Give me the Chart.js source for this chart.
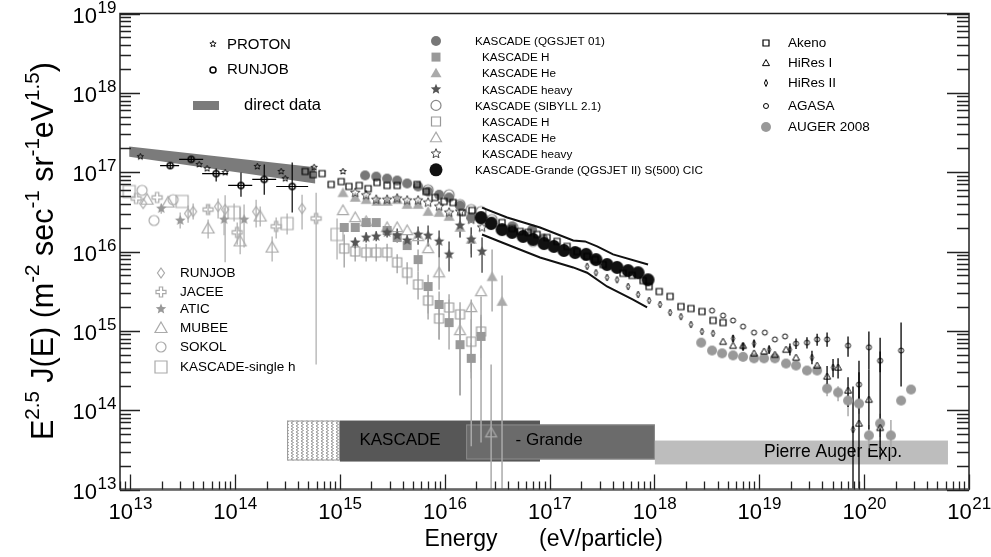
<!DOCTYPE html>
<html>
<head>
<meta charset="utf-8">
<script src="https://cdn.jsdelivr.net/npm/chart.js@4.4.1/dist/chart.umd.min.js"></script>
<style>
  html, body { margin: 0; padding: 0; background: #fff; }
  canvas { display: block; }
</style>
</head>
<body>
<canvas id="spectrum" width="991" height="557"></canvas>
<script>
// ---------------------------------------------------------------------------
// Data (energy in eV, flux as E^2.5 J(E))
// ---------------------------------------------------------------------------

var xTickExps = [13, 14, 15, 16, 17, 18, 19, 20, 21];
var yTickExps = [13, 14, 15, 16, 17, 18, 19];

var protonE = [1.25e13, 4.55e13, 5.42e13, 8.05e13, 1.63e14, 2.75e14, 3.01e14, 5.68e14, 1.07e15];
var protonF = [1.57e17, 1.25e17, 1.11e17, 9.9e16, 1.18e17, 1.02e17, 8.3e16, 1.15e17, 1.02e17];

var runjobE   = [2.41e13, 3.82e13, 6.61e13, 1.14e14, 1.90e14, 3.51e14];
var runjobF   = [1.21e17, 1.45e17, 9.6e16, 6.8e16, 8.1e16, 6.6e16];
var runjobELo = [1.93e13, 2.93e13, 4.86e13, 8.60e13, 1.46e14, 2.47e14];
var runjobEHi = [2.93e13, 4.97e13, 8.60e13, 1.46e14, 2.47e14, 4.98e14];
var runjobFLo = [1.10e17, 1.35e17, 7.6e16, 4.9e16, 5.2e16, 3.1e16];
var runjobFHi = [1.32e17, 1.55e17, 1.11e17, 9.9e16, 1.25e17, 1.32e17];

var bandE     = [9.8e12, 5.81e14];
var bandUpper = [2.10e17, 1.15e17];
var bandLower = [1.57e17, 7.2e16];

var runjobGE  = [1.33e13, 3.57e13, 3.99e13, 6.90e13, 8.05e13, 1.59e14, 4.36e14];
var runjobGF  = [4.03e16, 3.01e16, 3.19e16, 3.69e16, 3.38e16, 3.19e16, 3.48e16];
var runjobGLo = [null, 2.3e16, 2.53e16, 2.61e16, 7.3e15, 2.01e16, 1.89e16];
var runjobGHi = [null, 3.8e16, 4.03e16, 4.66e16, 5.1e16, 4.5e16, 5.2e16];

var jaceeE  = [1.14e13, 1.81e13, 5.54e13, 1.05e14, 2.47e14, 5.94e14];
var jaceeF  = [4.66e16, 4.8e16, 3.38e16, 1.74e16, 2.07e16, 2.61e16];
var jaceeLo = [null, null, 2.92e16, 1.22e16, 1.46e16, 3.76e14];
var jaceeHi = [null, null, 3.91e16, 2.32e16, 2.68e16, 5.5e16];

var aticE  = [1.98e13, 3.00e13, 7.87e13, 1.22e14];
var aticF  = [3.48e16, 2.46e16, 2.53e16, 2.53e16];
var aticLo = [3.0e16, 1.95e16, 1.6e16, 1.12e16];
var aticHi = [4.0e16, 3.1e16, 3.5e16, 3.91e16];

var mubeeE  = [1.45e13, 2.30e13, 5.54e13, 1.12e14, 1.74e14, 2.26e14];
var mubeeF  = [4.5e16, 4.14e16, 1.95e16, 1.34e16, 2.76e16, 1.12e16];
var mubeeLo = [null, null, 1.46e16, 9.2e15, 2.07e16, 7.5e15];
var mubeeHi = [null, null, 2.53e16, 3.58e16, 3.69e16, 1.55e16];

var sokolE = [1.30e13, 1.69e13, 2.57e13];
var sokolF = [5.9e16, 2.46e16, 4.5e16];

var singleE  = [9.8e12, 3.13e13, 9.8e13, 3.14e14, 9.4e14];
var singleF  = [5.7e16, 4.27e16, 3.10e16, 2.25e16, 1.64e16];
var singleLo = [null, null, 2.39e16, 1.64e16, 7.9e15];
var singleHi = [null, null, 4.03e16, 3.01e16, 2.61e16];

// KASCADE, QGSJET 01 unfolding
var qAllE = [1.74e15, 2.22e15, 2.82e15, 3.52e15, 4.38e15, 5.57e15, 6.94e15, 8.84e15, 1.10e16, 1.40e16, 1.79e16, 2.22e16, 2.83e16, 4.39e16, 6.81e16, 8.67e16];
var qAllF = [9.1e16, 8.8e16, 8.3e16, 7.85e16, 7.2e16, 6.6e16, 5.7e16, 5.2e16, 4.8e16, 3.80e16, 2.68e16, 2.53e16, 2.39e16, 2.07e16, 1.89e16, 1.46e16];

var qHE  = [1.10e15, 1.40e15, 1.78e15, 2.22e15, 2.82e15, 3.52e15, 4.38e15, 5.57e15, 6.94e15, 8.84e15, 1.10e16, 1.40e16, 1.79e16, 2.22e16];
var qHF  = [2.01e16, 2.01e16, 2.32e16, 2.32e16, 1.84e16, 1.50e16, 1.19e16, 7.9e15, 3.62e15, 2.15e15, 1.27e15, 6.7e14, 4.5e14, 8.5e14];
var qHLo = [null, null, null, null, null, null, null, 5.6e15, 1.39e15, 7.8e14, 5.8e14, 1.54e14, 2.5e14, 3.2e14];
var qHHi = [null, null, null, null, null, null, null, 1.06e16, 5.1e15, 3.13e15, 2.48e15, 1.39e15, 7.0e14, 1.5e15];

var qHeE  = [1.07e15, 1.40e15, 1.78e15, 2.26e15, 2.82e15, 3.52e15, 4.38e15, 5.57e15, 6.94e15, 8.84e15, 1.10e16, 1.40e16, 1.79e16, 2.83e16, 3.52e16];
var qHeF  = [5.5e16, 4.8e16, 4.5e16, 4.27e16, 4.27e16, 4.5e16, 3.91e16, 3.91e16, 3.19e16, 3.10e16, 2.76e16, 2.01e16, 1.42e16, 4.8e15, 2.34e15];
var qHeLo = [null, null, null, null, null, null, null, null, null, null, null, 1.5e16, 9.4e15, 1.75e15, 5e12];
var qHeHi = [null, null, null, null, null, null, null, null, null, null, null, 2.7e16, 2.01e16, 1.06e16, 5.0e15];

var qHvE  = [1.40e15, 1.78e15, 2.22e15, 2.82e15, 3.52e15, 4.38e15, 5.57e15, 6.94e15, 8.84e15, 1.10e16, 1.40e16, 1.79e16, 2.27e16];
var qHvF  = [1.30e16, 1.50e16, 1.55e16, 1.74e16, 1.59e16, 1.38e16, 1.64e16, 1.59e16, 1.34e16, 9.2e15, 2.13e16, 1.42e16, 1.00e16];
var qHvLo = [1.1e16, 1.3e16, 1.35e16, 1.5e16, 1.30e16, 1.15e16, 1.22e16, 1.16e16, 8.4e15, 5.6e15, 1.50e16, 8.4e15, 5.4e15];
var qHvHi = [1.5e16, 1.75e16, 1.8e16, 2.0e16, 1.95e16, 1.65e16, 2.07e16, 2.13e16, 1.84e16, 1.34e16, 2.92e16, 2.01e16, 1.50e16];

// KASCADE, SIBYLL 2.1 unfolding
var sAllE = [6.94e15, 1.10e16, 1.40e16, 1.79e16, 2.22e16, 2.83e16, 4.49e16, 6.96e16, 8.67e16];
var sAllF = [6.0e16, 5.2e16, 3.91e16, 3.38e16, 3.19e16, 2.53e16, 2.01e16, 1.34e16, 1.26e16];

var sHE  = [1.10e15, 1.40e15, 1.78e15, 2.22e15, 2.82e15, 3.52e15, 4.38e15, 5.57e15, 6.94e15, 8.84e15, 1.10e16, 1.40e16, 1.79e16, 2.22e16];
var sHF  = [1.09e16, 1.00e16, 9.7e15, 9.7e15, 9.7e15, 7.3e15, 5.4e15, 3.84e15, 2.41e15, 1.43e15, 1.97e15, 1.61e15, 7.3e14, 9.8e14];
var sHLo = [6.3e15, 7.5e15, 7.5e15, 7.5e15, 7.5e15, 5.3e15, 3.84e15, 2.48e15, 1.65e15, 7.8e14, 1.2e15, 1.54e14, 3.0e14, 4.5e14];
var sHHi = [1.64e16, 1.3e16, 1.25e16, 1.25e16, 1.25e16, 9.2e15, 7.3e15, 5.6e15, 3.13e15, 2.0e15, 2.9e15, 2.3e15, 1.4e15, 1.6e15];

var sHeE  = [1.07e15, 1.40e15, 1.78e15, 2.82e15, 3.52e15, 4.38e15, 5.57e15, 6.94e15, 8.84e15, 1.40e16, 1.79e16, 2.22e16, 2.77e16];
var sHeF  = [3.29e16, 2.68e16, 2.39e16, 2.01e16, 2.01e16, 1.84e16, 1.55e16, 1.09e16, 5.4e15, 1.01e15, 1.97e15, 3.13e15, 5.2e13];
var sHeLo = [null, null, null, null, null, null, null, null, 3.3e15, 1.54e14, 3.5e13, 3.9e13, 5e12];
var sHeHi = [null, null, null, null, null, null, null, null, 8.4e15, 1.8e15, 2.48e15, 2.71e15, 3.76e14];

var sHvE = [1.40e15, 1.78e15, 2.22e15, 2.82e15, 3.52e15, 4.38e15, 5.57e15, 6.94e15, 8.84e15, 1.10e16, 1.40e16, 1.79e16, 2.27e16];
var sHvF = [5.5e16, 5.1e16, 4.5e16, 4.5e16, 4.66e16, 4.4e16, 4.4e16, 4.14e16, 3.69e16, 3.10e16, 3.19e16, 2.53e16, 2.01e16];

var akenoE = [4.67e14, 5.56e14, 6.77e14, 8.26e14, 1.03e15, 1.22e15, 1.53e15, 1.86e15, 2.26e15, 2.82e15, 3.52e15, 5.45e15, 6.64e15, 8.09e15, 9.87e15, 1.20e16, 1.47e16, 1.82e16, 3.52e16, 4.39e16, 5.23e16, 6.24e16, 7.60e16, 9.46e16, 1.18e17, 1.47e17, 1.83e17, 2.28e17, 2.72e17, 3.24e17, 5.02e17, 6.12e17, 7.80e17, 8.89e17, 1.11e18, 1.41e18, 1.79e18, 2.23e18, 2.84e18, 3.62e18, 4.51e18];
var akenoF = [1.02e17, 9.3e16, 9.6e16, 7.0e16, 7.6e16, 6.6e16, 6.8e16, 6.2e16, 7.4e16, 6.8e16, 6.8e16, 7.0e16, 5.7e16, 4.8e16, 4.27e16, 4.14e16, 3.10e16, 3.29e16, 2.32e16, 1.95e16, 1.79e16, 1.74e16, 1.64e16, 1.50e16, 1.34e16, 1.16e16, 1.00e16, 8.65e15, 7.9e15, 6.85e15, 5.3e15, 5.0e15, 4.3e15, 3.62e15, 3.13e15, 2.71e15, 2.02e15, 1.91e15, 1.75e15, 1.35e15, 1.27e15];

var grandeE = [2.22e16, 2.77e16, 3.52e16, 4.39e16, 5.59e16, 6.96e16, 8.87e16, 1.10e17, 1.37e17, 1.75e17, 2.23e17, 2.77e17, 3.53e17, 4.40e17, 5.61e17, 6.98e17, 8.69e17];
var grandeF = [2.68e16, 2.25e16, 1.89e16, 1.74e16, 1.55e16, 1.42e16, 1.26e16, 1.16e16, 1.03e16, 9.7e15, 9.2e15, 7.9e15, 6.85e15, 6.3e15, 5.75e15, 5.4e15, 4.4e15];

var grandeUpE = [2.27e16, 3.94e16, 8.11e16, 1.68e17, 2.18e17, 2.84e17, 4.03e17, 8.69e17];
var grandeUpF = [3.58e16, 2.68e16, 2.01e16, 1.38e16, 1.34e16, 1.16e16, 9.2e15, 6.85e15];
var grandeLoE = [2.27e16, 3.52e16, 8.11e16, 1.68e17, 2.28e17, 3.53e17, 6.25e17, 8.51e17];
var grandeLoF = [1.64e16, 1.30e16, 8.4e15, 6.3e15, 5.4e15, 3.62e15, 2.48e15, 1.97e15];

var hires2E  = [2.28e17, 2.77e17, 3.53e17, 4.40e17, 5.61e17, 6.98e17, 8.89e17, 1.13e18, 1.41e18, 1.79e18, 2.23e18, 2.84e18, 3.62e18, 5.62e18, 7.00e18, 8.91e18, 1.24e19, 1.96e19, 3.18e19, 5.05e19, 7.83e19];
var hires2F  = [6.5e15, 5.4e15, 4.7e15, 4.4e15, 3.62e15, 2.87e15, 2.41e15, 2.15e15, 1.70e15, 1.51e15, 1.20e15, 9.8e14, 9.3e14, 8.0e14, 6.3e14, 6.9e14, 5.8e14, 5.8e14, 4.6e14, 3.45e14, 5.7e13];
var hires2Lo = [null, null, null, null, null, null, null, null, null, null, null, null, null, 7.2e14, 5.6e14, 6.1e14, 5.1e14, 4.9e14, 3.8e14, 2.6e14, 5e12];
var hires2Hi = [null, null, null, null, null, null, null, null, null, null, null, null, null, 8.9e14, 7.1e14, 7.8e14, 6.6e14, 6.9e14, 5.6e14, 4.4e14, 1.99e14];

var hires1E  = [4.51e18, 5.62e18, 7.00e18, 8.91e18, 1.11e19, 1.41e19, 1.80e19, 2.24e19, 3.56e19, 4.43e19, 5.64e19, 7.02e19, 8.93e19, 1.11e20, 1.42e20];
var hires1F  = [7.3e14, 6.5e14, 6.5e14, 5.2e14, 5.5e14, 5.0e14, 5.8e14, 4.6e14, 3.65e14, 2.66e14, 3.45e14, 1.77e14, 6.8e13, 1.36e14, 6.0e13];
var hires1Lo = [null, null, null, null, null, null, null, null, null, 1.9e14, 2.5e14, 1.1e14, 5e12, 5.7e13, 2.39e13];
var hires1Hi = [null, null, null, null, null, null, null, null, null, 3.6e14, 4.5e14, 2.6e14, 4.2e14, 3.25e14, 8.2e14];

var agasaE  = [3.54e18, 4.51e18, 5.62e18, 7.00e18, 8.91e18, 1.13e19, 1.41e19, 1.76e19, 2.24e19, 2.85e19, 3.56e19, 4.43e19, 7.02e19, 8.93e19, 1.11e20, 1.42e20, 2.25e20];
var agasaF  = [1.80e15, 1.56e15, 1.35e15, 1.13e15, 9.5e14, 9.5e14, 7.8e14, 8.5e14, 6.9e14, 7.1e14, 7.8e14, 7.8e14, 6.5e14, 2.10e14, 6.2e14, 4.2e14, 5.65e14];
var agasaLo = [null, null, null, null, null, null, null, null, 5.9e14, 6.0e14, 6.5e14, 6.3e14, 4.7e14, 1.4e14, 3.25e14, 3.0e14, 1.99e14];
var agasaHi = [null, null, null, null, null, null, null, null, 8.0e14, 8.3e14, 9.2e14, 9.5e14, 8.5e14, 3.0e14, 9.8e14, 5.5e14, 1.27e15];

var augerE  = [2.79e18, 3.54e18, 4.42e18, 5.62e18, 7.00e18, 8.91e18, 1.11e19, 1.41e19, 1.80e19, 2.24e19, 2.85e19, 3.56e19, 4.43e19, 5.64e19, 7.02e19, 8.93e19, 1.11e20, 1.42e20, 1.80e20, 2.25e20, 2.80e20];
var augerF  = [7.1e14, 5.65e14, 5.2e14, 4.9e14, 4.7e14, 4.5e14, 4.5e14, 4.5e14, 3.87e14, 3.65e14, 3.16e14, 3.16e14, 1.87e14, 1.67e14, 1.32e14, 1.21e14, 4.8e13, 6.8e13, 4.8e13, 1.32e14, 1.82e14];
var augerLo = [null, null, null, null, null, null, null, null, null, null, null, null, 1.5e14, 1.3e14, 8.4e13, 9e13, 3.3e13, 4.6e13, 2.5e13, null, null];
var augerHi = [null, null, null, null, null, null, null, null, null, null, null, null, 2.2e14, 2.0e14, 1.6e14, 1.5e14, 6.5e13, 9e13, 7.5e13, null, null];

// experiment energy ranges along the bottom
var rangeNames = ['', 'KASCADE', '- Grande', 'Pierre Auger Exp.'];
var rangeELo   = [3.14e14, 1.0e15, 1.6e16, 1.01e18];
var rangeEHi   = [1.0e15, 8.1e16, 1.01e18, 6.3e20];
var rangeFLo   = [2.32e13, 2.25e13, 2.39e13, 2.07e13];
var rangeFHi   = [7.4e13, 7.4e13, 6.6e13, 4.14e13];
var rangeTextE = [null, 3.75e15, 9.9e16, 5.05e19];
var rangeTextF = [null, 4.14e13, 4.14e13, 2.93e13];

// ---------------------------------------------------------------------------
// Markers
// ---------------------------------------------------------------------------

var FONT = '"Liberation Sans", Arial, Helvetica, sans-serif';

var MK = {
  proton:  { kind: 'star',     r: 3.3, color: '#111', fill: false, lw: 1 },
  runjob:  { kind: 'circle',   r: 3,   color: '#000', fill: false, lw: 1.5 },
  runjobG: { kind: 'diamond',  r: 5,   color: '#aaa', fill: false, lw: 1.2 },
  jacee:   { kind: 'cross',    r: 5,   color: '#aaa', fill: false, lw: 1.2 },
  atic:    { kind: 'star',     r: 5.5, color: '#999', fill: true },
  mubee:   { kind: 'triangle', r: 6,   color: '#aaa', fill: false, lw: 1.2 },
  sokol:   { kind: 'circle',   r: 5,   color: '#aaa', fill: false, lw: 1.2 },
  single:  { kind: 'square',   r: 6,   color: '#aaa', fill: false, lw: 1.2 },
  qAll:    { kind: 'circle',   r: 5,   color: '#777', fill: true },
  qH:      { kind: 'square',   r: 4.5, color: '#999', fill: true },
  qHe:     { kind: 'triangle', r: 5.5, color: '#aaa', fill: true },
  qHv:     { kind: 'star',     r: 5.5, color: '#555', fill: true },
  sAll:    { kind: 'circle',   r: 5,   color: '#888', fill: false, lw: 1.2 },
  sH:      { kind: 'square',   r: 4.5, color: '#999', fill: false, lw: 1.2 },
  sHe:     { kind: 'triangle', r: 5.5, color: '#aaa', fill: false, lw: 1.2 },
  sHv:     { kind: 'star',     r: 5,   color: '#444', fill: false, lw: 1 },
  grande:  { kind: 'circle',   r: 6.5, color: '#111', fill: true },
  akeno:   { kind: 'square',   r: 3,   color: '#000', fill: false, lw: 1.2 },
  hires1:  { kind: 'triangle', r: 3.5, color: '#000', fill: false, lw: 1 },
  hires2:  { kind: 'thin',     r: 3.5, color: '#000', fill: false, lw: 1 },
  agasa:   { kind: 'circle',   r: 2.5, color: '#000', fill: false, lw: 1 },
  auger:   { kind: 'circle',   r: 5,   color: '#999', fill: true }
};

function shapePath(ctx, kind, r) {
  var i, a, rr, t;
  ctx.beginPath();
  if (kind === 'circle') {
    ctx.arc(0, 0, r, 0, Math.PI * 2);
  } else if (kind === 'square') {
    ctx.rect(-r, -r, 2 * r, 2 * r);
  } else if (kind === 'triangle') {
    ctx.moveTo(0, -r); ctx.lineTo(r, r * 0.75); ctx.lineTo(-r, r * 0.75); ctx.closePath();
  } else if (kind === 'diamond' || kind === 'thin') {
    var w = kind === 'thin' ? r * 0.45 : r * 0.7;
    ctx.moveTo(0, -r); ctx.lineTo(w, 0); ctx.lineTo(0, r); ctx.lineTo(-w, 0); ctx.closePath();
  } else if (kind === 'star') {
    for (i = 0; i < 10; i++) {
      a = -Math.PI / 2 + i * Math.PI / 5;
      rr = (i % 2) ? r * 0.45 : r;
      ctx.lineTo(Math.cos(a) * rr, Math.sin(a) * rr);
    }
    ctx.closePath();
  } else if (kind === 'cross') {
    t = r * 0.33;
    ctx.moveTo(-t, -r); ctx.lineTo(t, -r); ctx.lineTo(t, -t); ctx.lineTo(r, -t);
    ctx.lineTo(r, t); ctx.lineTo(t, t); ctx.lineTo(t, r); ctx.lineTo(-t, r);
    ctx.lineTo(-t, t); ctx.lineTo(-r, t); ctx.lineTo(-r, -t); ctx.lineTo(-t, -t);
    ctx.closePath();
  }
}

function drawMarker(ctx, m, x, y) {
  ctx.save();
  ctx.translate(x, y);
  shapePath(ctx, m.kind, m.r);
  if (m.fill) { ctx.fillStyle = m.color; ctx.fill(); }
  else { ctx.strokeStyle = m.color; ctx.lineWidth = m.lw || 1; ctx.stroke(); }
  ctx.restore();
}

function markerCanvas(m) {
  var s = Math.ceil(2 * m.r + 4);
  var c = document.createElement('canvas');
  c.width = s; c.height = s;
  drawMarker(c.getContext('2d'), m, s / 2, s / 2);
  return c;
}

function series(E, F, mk, err) {
  err = err || {};
  return {
    data: E.map(function (e, i) { return { x: e, y: F[i] }; }),
    pointStyle: markerCanvas(mk),
    pointRadius: mk.r,
    pointHoverRadius: mk.r,
    showLine: false,
    errLo: err.lo, errHi: err.hi, xLo: err.xlo, xHi: err.xhi,
    errColor: err.color || mk.color,
    errWidth: err.width || 1.2
  };
}

function curve(E, F) {
  return {
    data: E.map(function (e, i) { return { x: e, y: F[i] }; }),
    showLine: true, pointRadius: 0, borderColor: '#111', borderWidth: 2, fill: false
  };
}

// ---------------------------------------------------------------------------
// Drawing helpers
// ---------------------------------------------------------------------------

function decadeTicks(min, max) {
  var major = [], minor = [];
  for (var e = Math.floor(Math.log10(min)); e <= Math.ceil(Math.log10(max)); e++) {
    for (var k = 1; k <= 9; k++) {
      var v = k * Math.pow(10, e);
      if (v < min * 0.999 || v > max * 1.001) continue;
      (k === 1 ? major : minor).push(v);
    }
  }
  return { major: major, minor: minor };
}

function powLabel(ctx, exp, x, base, align) {
  ctx.font = '22px ' + FONT;
  var w1 = ctx.measureText('10').width;
  ctx.font = '17px ' + FONT;
  var w2 = ctx.measureText(String(exp)).width;
  var left = align === 'right' ? x - w1 - w2 : x - (w1 + w2) / 2;
  ctx.fillStyle = '#000';
  ctx.textAlign = 'left';
  ctx.textBaseline = 'alphabetic';
  ctx.font = '22px ' + FONT;
  ctx.fillText('10', left, base);
  ctx.font = '17px ' + FONT;
  ctx.fillText(String(exp), left + w1 + 0.5, base - 10);
}

function text(ctx, s, x, y, size, align) {
  ctx.font = size + 'px ' + FONT;
  ctx.textAlign = align || 'left';
  ctx.textBaseline = 'middle';
  ctx.fillStyle = '#000';
  ctx.fillText(s, x, y);
}

function hatchPattern(ctx) {
  var pc = document.createElement('canvas');
  pc.width = 5; pc.height = 6;
  var g = pc.getContext('2d');
  g.fillStyle = '#fff'; g.fillRect(0, 0, 5, 6);
  g.strokeStyle = '#8a8a8a'; g.lineWidth = 0.9;
  g.beginPath(); g.moveTo(1, 0); g.lineTo(3.5, 1.5); g.lineTo(1, 3); g.lineTo(3.5, 4.5); g.lineTo(1, 6); g.stroke();
  return ctx.createPattern(pc, 'repeat');
}

var rangeStyle = [
  { fill: 'hatch', edge: '#999' },
  { fill: '#575757', edge: null },
  { fill: '#6b6b6b', edge: '#8a8a8a' },
  { fill: '#bdbdbd', edge: null }
];

var rootFrame = {
  id: 'rootFrame',
  beforeDatasetsDraw: function (chart) {
    var ctx = chart.ctx, a = chart.chartArea, xs = chart.scales.x, ys = chart.scales.y;
    ctx.save();
    ctx.beginPath();
    ctx.rect(a.left, a.top, a.right - a.left, a.bottom - a.top);
    ctx.clip();

    // experiment energy ranges
    rangeELo.forEach(function (e0, i) {
      var x0 = xs.getPixelForValue(e0), x1 = xs.getPixelForValue(rangeEHi[i]);
      var y0 = ys.getPixelForValue(rangeFHi[i]), y1 = ys.getPixelForValue(rangeFLo[i]);
      var st = rangeStyle[i];
      ctx.fillStyle = st.fill === 'hatch' ? hatchPattern(ctx) : st.fill;
      ctx.fillRect(x0, y0, x1 - x0, y1 - y0);
      if (st.edge) {
        ctx.strokeStyle = st.edge; ctx.lineWidth = 1;
        ctx.strokeRect(x0 + 0.5, y0 + 0.5, x1 - x0 - 1, y1 - y0 - 1);
      }
    });
    rangeNames.forEach(function (name, i) {
      if (!name) return;
      text(ctx, name, xs.getPixelForValue(rangeTextE[i]), ys.getPixelForValue(rangeTextF[i]), i === 3 ? 17.5 : 17, 'center');
    });

    // direct data band
    ctx.fillStyle = '#7b7b7b';
    ctx.beginPath();
    ctx.moveTo(xs.getPixelForValue(bandE[0]), ys.getPixelForValue(bandUpper[0]));
    ctx.lineTo(xs.getPixelForValue(bandE[1]), ys.getPixelForValue(bandUpper[1]));
    ctx.lineTo(xs.getPixelForValue(bandE[1]), ys.getPixelForValue(bandLower[1]));
    ctx.lineTo(xs.getPixelForValue(bandE[0]), ys.getPixelForValue(bandLower[0]));
    ctx.closePath();
    ctx.fill();

    // error bars
    chart.data.datasets.forEach(function (ds) {
      if (!ds.errLo && !ds.xLo) return;
      ctx.strokeStyle = ds.errColor;
      ctx.lineWidth = ds.errWidth;
      ds.data.forEach(function (p, i) {
        var px = xs.getPixelForValue(p.x), py = ys.getPixelForValue(p.y);
        ctx.beginPath();
        if (ds.errLo && ds.errLo[i] != null) {
          ctx.moveTo(px, ys.getPixelForValue(ds.errHi[i]));
          ctx.lineTo(px, ys.getPixelForValue(ds.errLo[i]));
        }
        if (ds.xLo && ds.xLo[i] != null) {
          ctx.moveTo(xs.getPixelForValue(ds.xLo[i]), py);
          ctx.lineTo(xs.getPixelForValue(ds.xHi[i]), py);
        }
        ctx.stroke();
      });
    });
    ctx.restore();
  },

  afterDraw: function (chart) {
    var ctx = chart.ctx, a = chart.chartArea, xs = chart.scales.x, ys = chart.scales.y;
    ctx.save();

    // frame
    ctx.strokeStyle = '#222';
    ctx.lineWidth = 1.5;
    ctx.strokeRect(a.left, a.top, a.right - a.left, a.bottom - a.top);
    ctx.strokeStyle = '#666';
    ctx.lineWidth = 2.5;
    ctx.beginPath(); ctx.moveTo(a.left, a.bottom); ctx.lineTo(a.right, a.bottom); ctx.stroke();

    // ticks (pointing inwards)
    ctx.strokeStyle = '#222';
    ctx.lineWidth = 1.3;
    var tx = decadeTicks(xs.min, xs.max), ty = decadeTicks(ys.min, ys.max);
    ctx.beginPath();
    tx.major.concat(tx.minor).forEach(function (v, i) {
      var px = Math.round(xs.getPixelForValue(v)) + 0.5, len = i < tx.major.length ? 15 : 8;
      ctx.moveTo(px, a.bottom); ctx.lineTo(px, a.bottom - len);
    });
    ty.major.concat(ty.minor).forEach(function (v, i) {
      var py = Math.round(ys.getPixelForValue(v)) + 0.5, maj = i < ty.major.length;
      ctx.moveTo(a.left, py); ctx.lineTo(a.left + (maj ? 20 : 11), py);
      ctx.moveTo(a.right, py); ctx.lineTo(a.right - (maj ? 22 : 12), py);
    });
    ctx.stroke();

    // tick labels
    xTickExps.forEach(function (e) {
      powLabel(ctx, e, xs.getPixelForValue(Math.pow(10, e)), 519, 'center');
    });
    yTickExps.forEach(function (e) {
      powLabel(ctx, e, 116, ys.getPixelForValue(Math.pow(10, e)) + 9, 'right');
    });

    // axis titles
    text(ctx, 'Energy', 461, 540, 23, 'center');
    text(ctx, '(eV/particle)', 601, 540, 23, 'center');

    // y title, scaled to span the same length as in the original figure
    var segs = [['E', 0], ['2.5', 1], [' J(E) (m', 0], ['-2', 1], [' sec', 0], ['-1', 1],
                [' sr', 0], ['-1', 1], ['eV', 0], ['1.5', 1], [')', 0]];
    var span = 378, big = 23, small = 15.5, total = 0;
    segs.forEach(function (s) {
      ctx.font = (s[1] ? small : big) + 'px ' + FONT;
      total += ctx.measureText(s[0]).width;
    });
    var k = span / total;
    big *= k; small *= k;
    ctx.translate(53, 251);
    ctx.rotate(-Math.PI / 2);
    ctx.textAlign = 'left';
    ctx.textBaseline = 'alphabetic';
    ctx.fillStyle = '#000';
    var cx = -span / 2;
    segs.forEach(function (s) {
      ctx.font = (s[1] ? small : big) + 'px ' + FONT;
      ctx.fillText(s[0], cx, s[1] ? -0.45 * big : 0);
      cx += ctx.measureText(s[0]).width;
    });
    ctx.setTransform(1, 0, 0, 1, 0, 0);

    // legend: top left
    drawMarker(ctx, MK.proton, 213, 44);
    text(ctx, 'PROTON', 227, 45, 15);
    drawMarker(ctx, MK.runjob, 213, 70);
    text(ctx, 'RUNJOB', 227, 70, 15);
    ctx.fillStyle = '#7b7b7b';
    ctx.fillRect(193, 101, 26, 9);
    text(ctx, 'direct data', 244, 105, 16.5);

    // legend: direct measurements
    var lowLeg = [[MK.runjobG, 'RUNJOB'], [MK.jacee, 'JACEE'], [MK.atic, 'ATIC'],
                  [MK.mubee, 'MUBEE'], [MK.sokol, 'SOKOL'], [MK.single, 'KASCADE-single h']];
    var lowY = [273, 292, 309, 328, 347, 367];
    lowLeg.forEach(function (l, i) {
      drawMarker(ctx, l[0], 161, lowY[i]);
      text(ctx, l[1], 180, lowY[i], 13.5);
    });

    // legend: KASCADE
    var midLeg = [[MK.qAll, 'KASCADE (QGSJET 01)', 0], [MK.qH, 'KASCADE H', 1], [MK.qHe, 'KASCADE He', 1],
                  [MK.qHv, 'KASCADE heavy', 1], [MK.sAll, 'KASCADE (SIBYLL 2.1)', 0], [MK.sH, 'KASCADE H', 1],
                  [MK.sHe, 'KASCADE He', 1], [MK.sHv, 'KASCADE heavy', 1],
                  [MK.grande, 'KASCADE-Grande (QGSJET II) S(500) CIC', 0]];
    midLeg.forEach(function (l, i) {
      var yy = 41 + i * 16.1;
      drawMarker(ctx, l[0], 436, yy);
      text(ctx, l[1], l[2] ? 482 : 475, yy + 1, 11.7);
    });

    // legend: air showers at highest energies
    var hiLeg = [[MK.akeno, 'Akeno'], [MK.hires1, 'HiRes I'], [MK.hires2, 'HiRes II'],
                 [MK.agasa, 'AGASA'], [MK.auger, 'AUGER 2008']];
    var hiY = [43, 63, 83, 106, 127];
    hiLeg.forEach(function (l, i) {
      drawMarker(ctx, l[0], 766, hiY[i]);
      text(ctx, l[1], 788, hiY[i], 13.5);
    });

    ctx.restore();
  }
};

// ---------------------------------------------------------------------------
// Chart
// ---------------------------------------------------------------------------

var datasets = [
  // bottom of the stack first
  series(singleE, singleF, MK.single, { lo: singleLo, hi: singleHi, color: '#bbb', width: 1.5 }),
  series(sokolE, sokolF, MK.sokol),
  series(mubeeE, mubeeF, MK.mubee, { lo: mubeeLo, hi: mubeeHi, color: '#bbb', width: 1.5 }),
  series(aticE, aticF, MK.atic, { lo: aticLo, hi: aticHi, color: '#bbb', width: 1.5 }),
  series(jaceeE, jaceeF, MK.jacee, { lo: jaceeLo, hi: jaceeHi, color: '#bbb', width: 1.5 }),
  series(runjobGE, runjobGF, MK.runjobG, { lo: runjobGLo, hi: runjobGHi, color: '#bbb', width: 1.5 }),
  series(sHeE, sHeF, MK.sHe, { lo: sHeLo, hi: sHeHi, color: '#aaa', width: 1.5 }),
  series(sHE, sHF, MK.sH, { lo: sHLo, hi: sHHi, color: '#aaa', width: 1.5 }),
  series(qHeE, qHeF, MK.qHe, { lo: qHeLo, hi: qHeHi, color: '#aaa', width: 1.5 }),
  series(qHE, qHF, MK.qH, { lo: qHLo, hi: qHHi, color: '#aaa', width: 1.5 }),
  series(qHvE, qHvF, MK.qHv, { lo: qHvLo, hi: qHvHi, color: '#555', width: 1.5 }),
  series(sHvE, sHvF, MK.sHv),
  series(sAllE, sAllF, MK.sAll),
  series(qAllE, qAllF, MK.qAll),
  series(augerE, augerF, MK.auger, { lo: augerLo, hi: augerHi, color: '#aaa', width: 1.5 }),
  curve(grandeUpE, grandeUpF),
  curve(grandeLoE, grandeLoF),
  series(grandeE, grandeF, MK.grande),
  series(hires2E, hires2F, MK.hires2, { lo: hires2Lo, hi: hires2Hi, color: '#000', width: 1.3 }),
  series(hires1E, hires1F, MK.hires1, { lo: hires1Lo, hi: hires1Hi, color: '#000', width: 1.3 }),
  series(agasaE, agasaF, MK.agasa, { lo: agasaLo, hi: agasaHi, color: '#000', width: 1.3 }),
  series(akenoE, akenoF, MK.akeno),
  series(runjobE, runjobF, MK.runjob, { lo: runjobFLo, hi: runjobFHi, xlo: runjobELo, xhi: runjobEHi, color: '#000', width: 1.2 }),
  series(protonE, protonF, MK.proton)
];
datasets.forEach(function (d, i) { d.order = datasets.length - i; });

new Chart(document.getElementById('spectrum'), {
  type: 'scatter',
  data: { datasets: datasets },
  options: {
    responsive: false,
    animation: false,
    events: [],
    layout: { padding: { left: 120, right: 22, top: 13.5, bottom: 67.5 } },
    plugins: { legend: { display: false }, tooltip: { enabled: false } },
    scales: {
      x: { type: 'logarithmic', min: 8e12, max: 1e21, display: false },
      y: { type: 'logarithmic', min: 1e13, max: 1e19, display: false }
    }
  },
  plugins: [rootFrame]
});
</script>
</body>
</html>
